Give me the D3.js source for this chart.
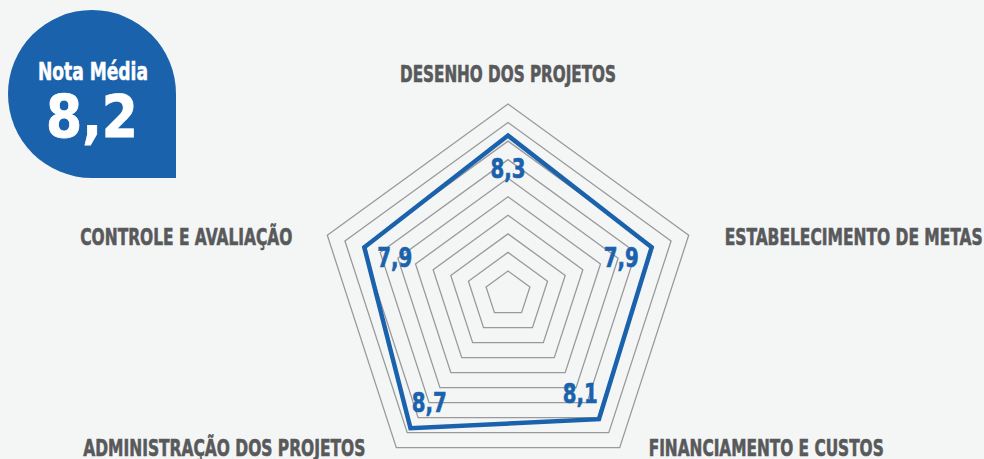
<!DOCTYPE html>
<html>
<head>
<meta charset="utf-8">
<script src="https://cdn.jsdelivr.net/npm/d3@7"></script>
<style>
  html, body { margin: 0; padding: 0; background: #f4f5f5; }
  svg { display: block; }
</style>
</head>
<body>
<script>
// dimensoes
var categorias = [
  "DESENHO DOS PROJETOS",
  "ESTABELECIMENTO DE METAS",
  "FINANCIAMENTO E CUSTOS",
  "ADMINISTRAÇÃO DOS PROJETOS",
  "CONTROLE E AVALIAÇÃO"
];
var notas = [8.3, 7.9, 8.1, 8.7, 7.9];
var niveis = [1, 2, 3, 4, 5, 6, 7, 8, 9, 10];
var notaMedia = 8.2;

var width = 984, height = 459;
var cx = 508, cy = 294;
var azul = "#1b62ad", cinza = "#58595b";
var fonte = "'Liberation Sans Narrow', 'DejaVu Sans Condensed', 'Open Sans', sans-serif";

var ptBR = d3.formatLocale({ decimal: ",", thousands: ".", grouping: [3], currency: ["R$", ""] });
var fmt = ptBR.format(".1f");

var svg = d3.select("body").append("svg")
  .attr("width", width)
  .attr("height", height);

// radial scale
var r = d3.scaleLinear().domain([0, 10]).range([4.5, 190]);
var angulo = d3.scaleLinear().domain([0, categorias.length]).range([-Math.PI / 2, 1.5 * Math.PI]);

function ponto(i, raio) {
  return [cx + raio * Math.cos(angulo(i)), cy + raio * Math.sin(angulo(i))];
}

var linha = d3.line();

// grid pentagons
svg.append("g").selectAll("path")
  .data(niveis)
  .enter().append("path")
  .attr("d", function(n) {
    return linha(categorias.map(function(c, i) { return ponto(i, r(n)); })) + "Z";
  })
  .attr("fill", "none")
  .attr("stroke", "#999a9b")
  .attr("stroke-width", 1.3);

// notas polygon
svg.append("path")
  .attr("d", linha(notas.map(function(v, i) { return ponto(i, r(v)); })) + "Z")
  .attr("fill", "none")
  .attr("stroke", azul)
  .attr("stroke-width", 4.5)
  .attr("stroke-linejoin", "miter");

// value labels, a bit inside the line
svg.append("g").selectAll("text")
  .data(notas)
  .enter().append("text")
  .attr("x", function(v, i) { return ponto(i, r(v) - 32)[0]; })
  .attr("y", function(v, i) { return ponto(i, r(v) - 32)[1] + 10; })
  .attr("text-anchor", "middle")
  .attr("textLength", 35)
  .attr("lengthAdjust", "spacingAndGlyphs")
  .attr("font-family", fonte)
  .attr("font-weight", "bold")
  .attr("font-size", 27)
  .attr("fill", azul)
  .attr("stroke", azul)
  .attr("stroke-width", 0.6)
  .text(function(v) { return fmt(v); });

// axis titles: offset from the outer vertex
var rotulos = [
  { dx: 0, dy: -22, anchor: "middle", w: 216 },
  { dx: 36, dy: 10, anchor: "start", w: 258 },
  { dx: 29, dy: 8, anchor: "start", w: 235 },
  { dx: -31, dy: 8, anchor: "end", w: 282 },
  { dx: -35, dy: 10, anchor: "end", w: 212 }
];

svg.append("g").selectAll("text")
  .data(categorias)
  .enter().append("text")
  .attr("x", function(c, i) { return ponto(i, r(10))[0] + rotulos[i].dx; })
  .attr("y", function(c, i) { return ponto(i, r(10))[1] + rotulos[i].dy; })
  .attr("text-anchor", function(c, i) { return rotulos[i].anchor; })
  .attr("textLength", function(c, i) { return rotulos[i].w; })
  .attr("lengthAdjust", "spacingAndGlyphs")
  .attr("font-family", fonte)
  .attr("font-weight", "bold")
  .attr("font-size", 23.5)
  .attr("fill", cinza)
  .attr("stroke", cinza)
  .attr("stroke-width", 0.6)
  .text(function(c) { return c; });

// badge "Nota Média"
var bx = 8, by = 10, bs = 168, br = bs / 2;
var badge = svg.append("g");
badge.append("path")
  .attr("d",
    "M" + (bx + br) + "," + by +
    "A" + br + "," + br + " 0 0 1 " + (bx + bs) + "," + (by + br) +
    "L" + (bx + bs) + "," + (by + bs) +
    "L" + (bx + br) + "," + (by + bs) +
    "A" + br + "," + br + " 0 0 1 " + bx + "," + (by + br) +
    "A" + br + "," + br + " 0 0 1 " + (bx + br) + "," + by + "Z")
  .attr("fill", azul);

badge.append("text")
  .attr("x", 93)
  .attr("y", 80)
  .attr("text-anchor", "middle")
  .attr("textLength", 110)
  .attr("lengthAdjust", "spacingAndGlyphs")
  .attr("font-family", fonte)
  .attr("font-weight", "bold")
  .attr("font-size", 25)
  .attr("fill", "#fff")
  .attr("stroke", "#fff")
  .attr("stroke-width", 0.5)
  .text("Nota Média");

badge.append("text")
  .attr("x", 92)
  .attr("y", 137)
  .attr("text-anchor", "middle")
  .attr("textLength", 92)
  .attr("lengthAdjust", "spacingAndGlyphs")
  .attr("font-family", fonte)
  .attr("font-weight", "bold")
  .attr("font-size", 58)
  .attr("fill", "#fff")
  .attr("stroke", "#fff")
  .attr("stroke-width", 0.8)
  .text(fmt(notaMedia));
</script>
</body>
</html>
